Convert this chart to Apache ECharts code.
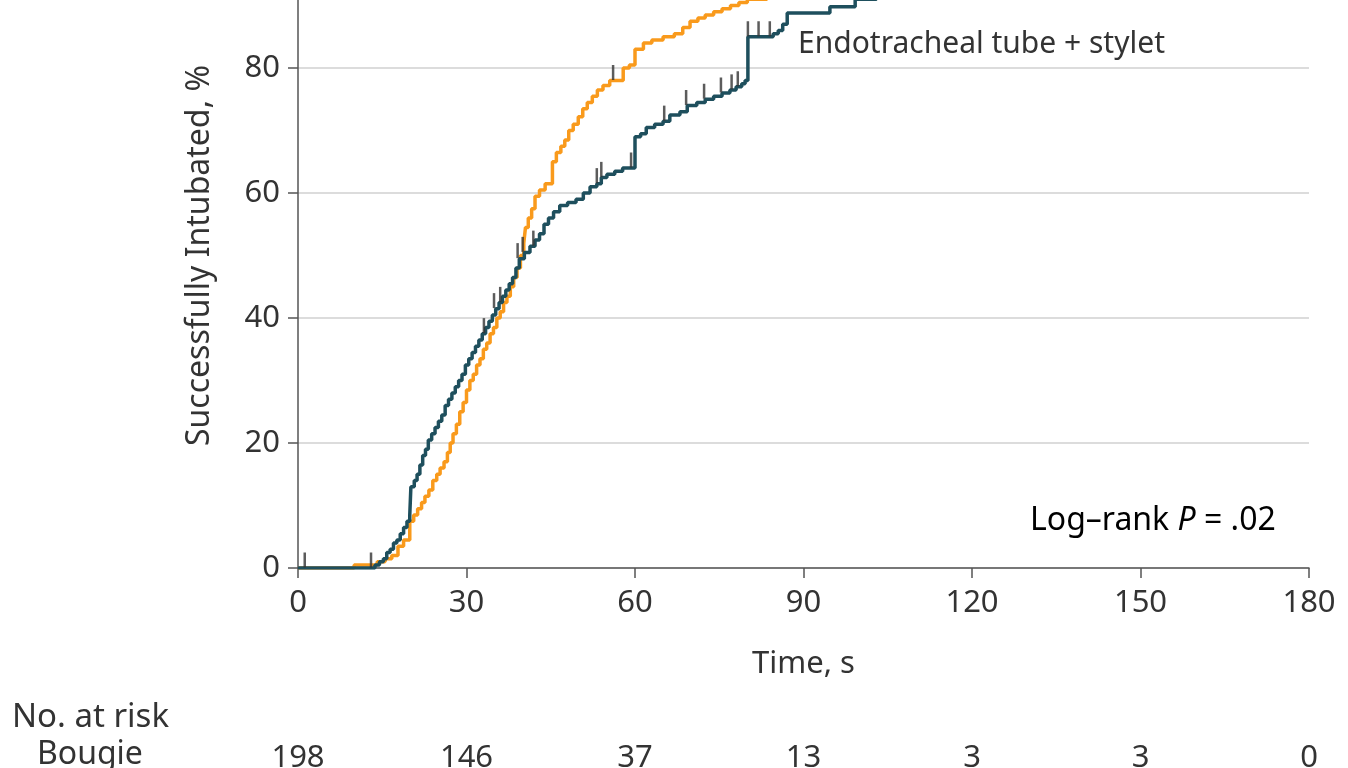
<!DOCTYPE html>
<html><head><meta charset="utf-8">
<script src="https://cdn.jsdelivr.net/npm/echarts/dist/echarts.min.js"></script>
<style>html,body{margin:0;padding:0;background:#fff}#c{width:1348px;height:768px}</style>
</head><body><div id="c"></div>
<script>
const xTicks = [0, 30, 60, 90, 120, 150, 180];
const atRiskBougie = [198, 146, 37, 13, 3, 3, 0];

// Bougie (orange) KM curve: [time s, % intubated]
const bougie = [[0,0],[10,0.5],[14.1,1],[15.5,1.5],[16.7,2],[17.8,3.5],[18.8,4.5],[19.9,7.5],[20.6,8.5],[21.3,9.5],[22,10.5],[22.6,11.5],[23.3,12.5],[24,14],[24.7,15],[25.3,16],[26,17],[26.6,18.5],[27.1,20],[27.6,21.5],[28.2,23],[28.8,25],[29.4,26.5],[30,28.5],[30.6,30],[31.2,31],[31.8,32.5],[32.4,33.5],[33,35],[33.6,36],[34.2,37.5],[34.8,38.5],[35.4,40],[36,41],[36.6,42.5],[37.2,43.5],[37.8,45],[38.4,46.5],[39,48],[39.6,50],[40.2,52],[40.5,54.5],[41,56],[41.6,57.5],[42.2,59.5],[43,60.5],[44,61.5],[45.3,65],[46,66.5],[46.8,67.5],[47.5,68.5],[48.2,70],[49,71],[49.9,72.2],[50.7,73.5],[51.5,74.5],[52.4,75.5],[53.3,76.5],[54.3,77.2],[55.5,78],[57.9,80],[59,80.5],[60,83],[61.5,84],[63,84.5],[65,85],[67,85.5],[68.5,86.5],[69.8,87.5],[71.2,88],[72.5,88.5],[74,89],[75.5,89.5],[77,90],[78.5,90.5],[80,91],[83.5,92.5],[90,94],[100,95.5]];

// Endotracheal tube + stylet (teal) KM curve
const ettStylet = [[0,0],[13.7,0.5],[14.5,1],[15.2,1.5],[15.8,2.5],[16.4,3],[17,4],[17.6,4.5],[18.2,5.5],[18.8,6.5],[19.4,7.5],[19.9,8.5],[20.1,13],[20.7,14],[21.2,15],[21.7,16.5],[22.2,18],[22.7,19],[23.2,20.5],[23.8,21.5],[24.4,22.5],[25,23.5],[25.6,24.5],[26.2,26],[26.8,27],[27.4,28],[28,29],[28.6,30],[29.2,31],[29.8,32.5],[30.4,33.5],[31,34.5],[31.6,35.5],[32.2,36.5],[32.8,37.5],[33.4,38.5],[34,39.5],[34.6,40.5],[35.2,41.5],[35.8,42.5],[36.4,43.5],[37,44.5],[37.6,45.5],[38.2,46.5],[38.8,48],[39.4,49.5],[40.3,50.5],[41.3,51.5],[42.2,52.5],[43,53.5],[43.8,55],[44.6,56],[45.5,57],[46.6,58],[48,58.5],[49.5,59],[50.8,60],[52,61],[53.2,61.5],[54,62.5],[55,63],[56.4,63.5],[57.8,64],[60,69],[61,69.5],[62,70.5],[63.5,71],[65,71.5],[66.2,72.5],[68,73],[69.3,74],[71,74.5],[72.5,75],[74,75.5],[75.5,76],[76.9,76.5],[78,77],[79,77.5],[79.6,78],[80.1,85],[84.6,85.5],[85.5,86],[86.3,87],[87.1,88.8],[94.7,89.8],[99.2,91],[103,93],[110,94.5],[125,96]];

// censored observations
const bougieCensor = [[56.1,78]];
const ettCensor = [[1.2,0],[13,0],[33.1,37.5],[34.9,41.5],[36,42.5],[39.1,49.5],[40,50.5],[41.9,51.5],[53.2,61.5],[54,62.5],[59.3,64],[65.2,71.5],[69.1,74],[72.3,75],[75.3,76],[77.2,76.5],[78.3,77],[80.1,85],[82,85],[84,85]];

const FONT = '"Noto Sans", "Open Sans", sans-serif';
const TXT = '#333';
const AX = '#555';

const chart = echarts.init(document.getElementById('c'), null, {renderer: 'canvas'});
chart.setOption({
  animation: false,
  backgroundColor: '#fff',
  textStyle: {fontFamily: FONT},
  grid: {left: 298, right: 39, top: -57, bottom: 200, containLabel: false, outerBoundsMode: 'none'},
  xAxis: [{
    type: 'value', min: 0, max: 180, interval: 30,
    name: 'Time, s', nameLocation: 'middle', nameGap: 81,
    nameTextStyle: {fontSize: 31, color: TXT, fontFamily: FONT},
    axisLine: {show: true, onZero: false, lineStyle: {color: AX, width: 1.5}},
    axisTick: {show: true, length: 10, lineStyle: {color: AX, width: 1.5}},
    axisLabel: {fontSize: 31, color: TXT, margin: 20, fontFamily: FONT},
    splitLine: {show: false}
  }, {
    type: 'value', min: 0, max: 180, interval: 30, position: 'bottom', offset: 175,
    axisLine: {show: false}, axisTick: {show: false}, splitLine: {show: false},
    axisLabel: {fontSize: 31, color: TXT, margin: 0, fontFamily: FONT,
      formatter: v => { const i = xTicks.indexOf(v); return i >= 0 ? String(atRiskBougie[i]) : ''; }}
  }],
  yAxis: {
    type: 'value', min: 0, max: 100, interval: 20,
    name: 'Successfully Intubated, %', nameLocation: 'middle', nameGap: 80,
    nameTextStyle: {fontSize: 32, color: TXT, fontFamily: FONT},
    axisLine: {show: true, lineStyle: {color: AX, width: 1.5}},
    axisTick: {show: true, length: 10, lineStyle: {color: AX, width: 1.5}},
    axisLabel: {fontSize: 31, color: TXT, margin: 18, fontFamily: FONT},
    splitLine: {show: true, lineStyle: {color: '#dcdcdc', width: 2}}
  },
  series: [{
    name: 'Bougie', type: 'line', step: 'end', data: bougie, symbol: 'none',
    lineStyle: {color: '#F99A1C', width: 3.5}, z: 3
  }, {
    name: 'Endotracheal tube + stylet', type: 'line', step: 'end', data: ettStylet, symbol: 'none',
    lineStyle: {color: '#1E4F5D', width: 3.5}, z: 4
  }, {
    type: 'scatter', data: ettCensor.concat(bougieCensor), symbol: 'rect', symbolSize: [2.5, 15],
    symbolOffset: [0, -8], itemStyle: {color: '#333'}, z: 5, silent: true
  }],
  graphic: [
    {type: 'text', left: 798, top: 29, style: {text: 'Endotracheal tube + stylet', font: '30px ' + FONT, fill: TXT}},
    {type: 'text', left: 1030, top: 505, style: {text: '{a|Log–rank }{b|P}{a| = .02}', rich: {a: {fontSize: 32, fontFamily: FONT, color: TXT}, b: {fontSize: 32, fontFamily: FONT, fontStyle: 'italic', color: TXT}}}},
    {type: 'text', left: 12, top: 701, style: {text: 'No. at risk', font: '33px ' + FONT, fill: TXT}},
    {type: 'text', left: 37, top: 739, style: {text: 'Bougie', font: '32px ' + FONT, fill: TXT}}
  ]
});
</script></body></html>
